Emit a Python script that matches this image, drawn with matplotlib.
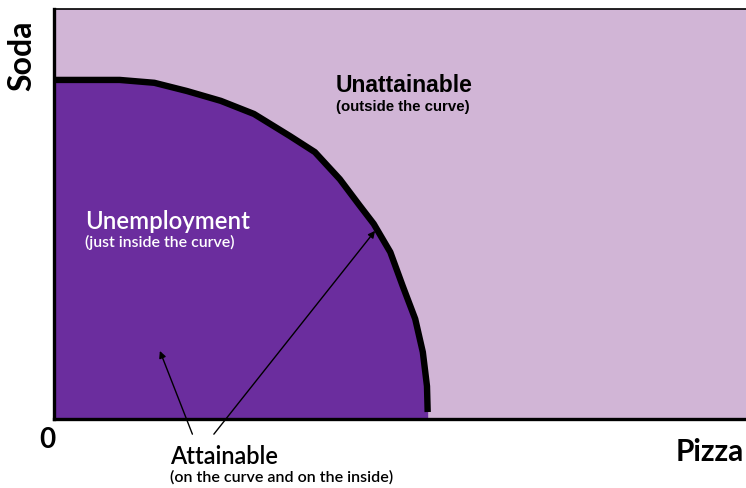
import matplotlib
matplotlib.use("Agg")
import matplotlib.pyplot as plt

# Production possibilities frontier
frontier_x = [0, 9.5, 14.5, 19.2, 24.1, 28.9, 34.1, 37.7, 41.3, 44.2, 46.2, 48.6, 50.4, 52.2, 53.3, 53.9, 54.0]
frontier_y = [82.7, 82.7, 82.0, 80.0, 77.6, 74.4, 69.0, 65.1, 58.5, 52.0, 47.6, 40.7, 32.4, 24.4, 16.3, 8.0, 1.7]

x_label = "Pizza"
y_label = "Soda"
origin_label = "0"

DARK = "#6B2D9E"
LIGHT = "#D1B5D6"

fig = plt.figure(figsize=(7.46, 4.89), dpi=100)
ax = fig.add_axes([54/746, 69/489, 692/746, 410/489])
ax.set_xlim(0, 100)
ax.set_ylim(0, 100)
ax.set_facecolor(LIGHT)

ax.fill_between(frontier_x, frontier_y, 0, color=DARK, lw=0, zorder=1)
ax.plot(frontier_x, frontier_y, color="black", lw=4.6, solid_capstyle="butt",
        solid_joinstyle="round", zorder=3)

ax.set_xticks([])
ax.set_yticks([])
for s in ["left", "bottom"]:
    ax.spines[s].set_linewidth(2.4)
ax.spines["top"].set_linewidth(1.2)
ax.spines["right"].set_visible(False)

geo = "Lato"
ax.text(-4.6, 88.8, y_label, rotation=90, ha="center", va="center",
        fontsize=23, fontweight="bold", family=geo, clip_on=False)
ax.text(89.8, -7.8, x_label, ha="left", va="center",
        fontsize=21.5, fontweight="bold", family=geo, clip_on=False)
ax.text(-1.0, -4.9, origin_label, ha="center", va="center",
        fontsize=20, fontweight="bold", family=geo, clip_on=False)

ax.text(40.75, 81.5, "Unattainable", ha="left", va="center",
        fontsize=16.5, fontweight="bold", family="Liberation Sans", zorder=5)
ax.text(40.75, 76.3, "(outside the curve)", ha="left", va="center",
        fontsize=10.8, fontweight="bold", family="Liberation Sans", zorder=5)

ax.text(4.48, 48.3, "Unemployment", ha="left", va="center", color="white",
        fontsize=17.3, fontweight="semibold", family=geo, zorder=5)
ax.text(4.48, 43.2, "(just inside the curve)", ha="left", va="center", color="white",
        fontsize=11.4, fontweight="semibold", family=geo, zorder=5)

ax.text(16.76, -8.8, "Attainable", ha="left", va="center",
        fontsize=17, fontweight="semibold", family=geo, clip_on=False)
ax.text(16.76, -14.1, "(on the curve and on the inside)", ha="left", va="center",
        fontsize=11.5, fontweight="semibold", family=geo, clip_on=False)

arrow = dict(arrowstyle="-|>", color="black", lw=1.0, mutation_scale=10, shrinkA=0, shrinkB=0)
ax.annotate("", xy=(15.3, 16.6), xytext=(20.0, -3.7), arrowprops=arrow,
            annotation_clip=False, zorder=6)
ax.annotate("", xy=(46.4, 45.9), xytext=(23.1, -3.7), arrowprops=arrow,
            annotation_clip=False, zorder=6)

fig.savefig("out.png", dpi=100)
